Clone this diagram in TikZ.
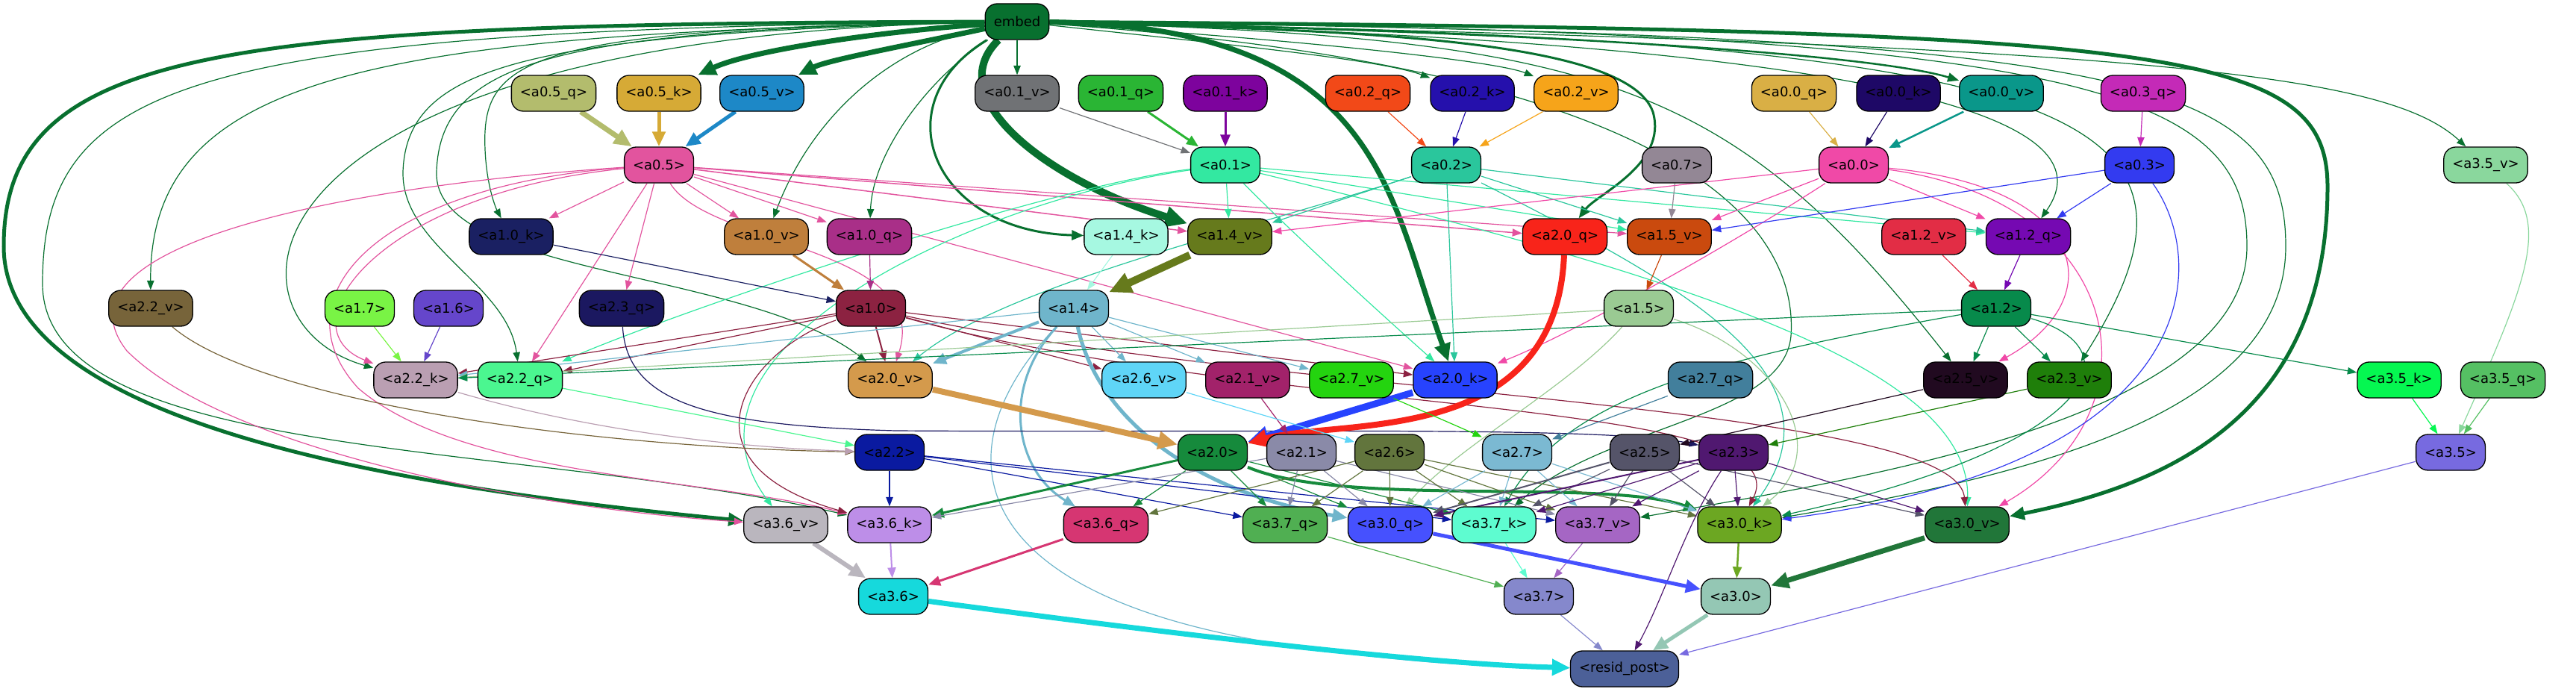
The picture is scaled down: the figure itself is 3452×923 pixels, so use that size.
\documentclass[tikz,border=0pt]{standalone}
\usepackage{fontspec}
\setmainfont{DejaVu Sans}
\usetikzlibrary{arrows.meta}
\pgfdeclarelayer{bg}\pgfsetlayers{bg,main}
\def\defc#1#2{\definecolor{c#1}{HTML}{#2}}
\defc{embed}{08702F}\defc{a05q}{B3BC6D}\defc{a05k}{D6AA36}\defc{a05v}{1D88C7}\defc{a05}{E2549E}
\defc{a01v}{707275}\defc{a01q}{2AB534}\defc{a01k}{7D039D}\defc{a01}{33E8A1}
\defc{a02q}{F24918}\defc{a02k}{2510AC}\defc{a02v}{F6A41A}\defc{a02}{2AC69C}\defc{a07}{938795}
\defc{a00q}{D9AF45}\defc{a00k}{1E0866}\defc{a00v}{0A978A}\defc{a00}{F049A7}
\defc{a03q}{C42AB7}\defc{a03}{333BF0}\defc{a35v}{8AD79D}
\defc{a10k}{1A2062}\defc{a10v}{BF7F3C}\defc{a10q}{A92F88}\defc{a14k}{A6F8E1}\defc{a14v}{667A1C}
\defc{a20q}{F8241A}\defc{a15v}{CA4A0E}\defc{a12v}{E22D45}\defc{a12q}{7509B2}
\defc{a22v}{77643A}\defc{a17}{79F445}\defc{a16}{6546CB}\defc{a23q}{1B1860}\defc{a10}{8C2241}
\defc{a14}{6FB5CB}\defc{a15}{9ACA93}\defc{a12}{078A4B}
\defc{a22k}{BA9FB2}\defc{a22q}{4BF690}\defc{a20v}{D49A4C}\defc{a26v}{5FD5F7}\defc{a21v}{A2226A}
\defc{a27v}{24D40F}\defc{a20k}{2743FE}\defc{a27q}{427F9C}\defc{a25v}{210A20}\defc{a23v}{1F7F0A}
\defc{a35k}{05F751}\defc{a35q}{55C063}
\defc{a22}{0A1AA0}\defc{a20}{168A3C}\defc{a21}{8A8AA8}\defc{a26}{62753D}\defc{a27}{7BB9D2}
\defc{a25}{555469}\defc{a23}{501870}\defc{a35}{776AE0}
\defc{a36v}{BAB6BE}\defc{a36k}{BD8EE8}\defc{a36q}{D63672}\defc{a37q}{50AF52}\defc{a30q}{4651FE}
\defc{a37k}{5EFCD0}\defc{a37v}{A566C4}\defc{a30k}{6CA722}\defc{a30v}{217639}
\defc{a36}{16D9DC}\defc{a37}{8588CC}\defc{a30}{94C7B4}\defc{resid}{4C6098}
\newcommand\N[4]{\node[nd,fill=c#1] (#1) at (#2,#3) {#4};}
\newcommand\E[3]{\draw[ed,line width=#3pt,color=c#1] (#1) -- (#2);}
\newcommand\C[4]{\draw[ed,line width=#3pt,color=c#1] (#1) #4 (#2);}
\begin{document}
\begin{tikzpicture}[x=1pt,y=-1pt,
  nd/.style={draw=black,line width=1.3pt,rounded corners=16pt,minimum height=48pt,
    inner xsep=11.5pt,inner ysep=0pt,text=black,font=\fontsize{18pt}{21pt}\selectfont},
  ed/.style={-{Triangle[length=10pt 2,width=7pt 2]}}]
\useasboundingbox (0,0) rectangle (3452,923);
% row 0
\N{embed}{1363}{29}{embed}
% row 1
\N{a05q}{742}{125}{<a0.5\_q>}\N{a05k}{883}{125}{<a0.5\_k>}\N{a05v}{1021}{125}{<a0.5\_v>}
\N{a01v}{1363}{125}{<a0.1\_v>}\N{a01q}{1502}{125}{<a0.1\_q>}\N{a01k}{1642}{125}{<a0.1\_k>}
\N{a02q}{1833}{125}{<a0.2\_q>}\N{a02k}{1973}{125}{<a0.2\_k>}\N{a02v}{2112}{125}{<a0.2\_v>}
\N{a00q}{2404}{125}{<a0.0\_q>}\N{a00k}{2544}{125}{<a0.0\_k>}\N{a00v}{2682}{125}{<a0.0\_v>}
\N{a03q}{2872}{125}{<a0.3\_q>}
% row 2
\N{a05}{883}{221}{<a0.5>}\N{a01}{1642}{221}{<a0.1>}\N{a02}{1938}{221}{<a0.2>}
\N{a07}{2247}{221}{<a0.7>}\N{a00}{2484}{221}{<a0.0>}\N{a03}{2867}{221}{<a0.3>}
\N{a35v}{3331}{221}{<a3.5\_v>}
% row 3
\N{a10k}{685}{317}{<a1.0\_k>}\N{a10v}{1027}{317}{<a1.0\_v>}\N{a10q}{1165}{317}{<a1.0\_q>}
\N{a14k}{1509}{317}{<a1.4\_k>}\N{a14v}{1648}{317}{<a1.4\_v>}\N{a20q}{2097}{317}{<a2.0\_q>}
\N{a15v}{2237}{317}{<a1.5\_v>}\N{a12v}{2578}{317}{<a1.2\_v>}\N{a12q}{2718}{317}{<a1.2\_q>}
% row 4
\N{a22v}{202}{413}{<a2.2\_v>}\N{a17}{482}{413}{<a1.7>}\N{a16}{601}{413}{<a1.6>}
\N{a23q}{833}{413}{<a2.3\_q>}\N{a10}{1167}{413}{<a1.0>}\N{a14}{1439}{413}{<a1.4>}
\N{a15}{2196}{413}{<a1.5>}\N{a12}{2675}{413}{<a1.2>}
% row 5
\N{a22k}{557}{509}{<a2.2\_k>}\N{a22q}{697}{509}{<a2.2\_q>}\N{a20v}{1193}{509}{<a2.0\_v>}
\N{a26v}{1533}{509}{<a2.6\_v>}\N{a21v}{1672}{509}{<a2.1\_v>}\N{a27v}{1811}{509}{<a2.7\_v>}
\N{a20k}{1950}{509}{<a2.0\_k>}\N{a27q}{2292}{509}{<a2.7\_q>}\N{a25v}{2634}{509}{<a2.5\_v>}
\N{a23v}{2773}{509}{<a2.3\_v>}\N{a35k}{3215}{509}{<a3.5\_k>}\N{a35q}{3354}{509}{<a3.5\_q>}
% row 6
\N{a22}{1192}{606}{<a2.2>}\N{a20}{1625}{606}{<a2.0>}\N{a21}{1744}{606}{<a2.1>}
\N{a26}{1862}{606}{<a2.6>}\N{a27}{2033}{606}{<a2.7>}\N{a25}{2204}{606}{<a2.5>}
\N{a23}{2323}{606}{<a2.3>}\N{a35}{3284}{606}{<a3.5>}
% row 7
\N{a36v}{1053}{703}{<a3.6\_v>}\N{a36k}{1192}{703}{<a3.6\_k>}\N{a36q}{1482}{703}{<a3.6\_q>}
\N{a37q}{1722}{703}{<a3.7\_q>}\N{a30q}{1863}{703}{<a3.0\_q>}\N{a37k}{2002}{703}{<a3.7\_k>}
\N{a37v}{2141}{703}{<a3.7\_v>}\N{a30k}{2331}{703}{<a3.0\_k>}\N{a30v}{2636}{703}{<a3.0\_v>}
% row 8
\N{a36}{1197}{799}{<a3.6>}\N{a37}{2062}{799}{<a3.7>}\N{a30}{2326}{799}{<a3.0>}
% row 9
\N{resid}{2177}{896}{<resid\_post>}
\begin{pgfonlayer}{bg}
% embed
\C{embed}{a05k}{7}{.. controls (1150,45) and (1000,70) ..}
\C{embed}{a05v}{7}{.. controls (1220,60) and (1110,80) ..}
\E{embed}{a01v}{1.2}
\C{embed}{a14v}{10}{.. controls (1260,130) and (1400,240) ..}
\C{embed}{a14k}{3}{.. controls (1180,140) and (1250,310) ..}
\C{embed}{a20k}{7}{.. controls (1850,35) and (1860,260) ..}
\C{embed}{a20q}{3}{.. controls (1800,40) and (2180,50) .. (2215,150) .. controls (2235,220) and (2140,260) ..}
\C{embed}{a02k}{1.2}{.. controls (1650,60) and (1850,80) ..}
\C{embed}{a02v}{1.2}{.. controls (1700,50) and (2000,80) ..}
\C{embed}{a00v}{2.5}{.. controls (2000,40) and (2500,70) ..}
\C{embed}{a12q}{1.2}{.. controls (2750,60) and (2800,200) ..}
\C{embed}{a35v}{1.2}{.. controls (2900,60) and (3200,100) ..}
\C{embed}{a30v}{5}{.. controls (2900,40) and (3119,60) .. (3119,250) .. controls (3119,560) and (2900,650) ..}
\C{embed}{a36v}{5}{.. controls (300,32) and (5,60) .. (5,330) .. controls (5,560) and (500,650) ..}
\C{embed}{a22v}{1.2}{.. controls (500,45) and (200,100) ..}
\C{embed}{a10k}{1.2}{.. controls (700,38) and (645,80) .. (650,200) .. controls (652,250) and (665,280) ..}
\C{embed}{a10v}{1.2}{.. controls (1200,60) and (1090,150) ..}
\C{embed}{a10q}{1.2}{.. controls (1250,100) and (1170,200) ..}
\C{embed}{a22k}{1.2}{.. controls (300,50) and (280,430) ..}
\C{embed}{a22q}{1.2}{.. controls (700,45) and (545,90) .. (540,230) .. controls (538,330) and (680,380) ..}
\C{embed}{a20v}{1.2}{.. controls (750,40) and (590,80) .. (585,230) .. controls (580,370) and (1000,360) ..}
\C{embed}{a36k}{1.2}{.. controls (250,40) and (57,110) .. (57,380) .. controls (57,620) and (700,590) ..}
\C{embed}{a25v}{1.2}{.. controls (2150,50) and (2320,110) ..}
\C{embed}{a23v}{1.2}{.. controls (2800,50) and (3000,150) ..}
\C{embed}{a30k}{1.2}{.. controls (2850,45) and (3063,100) .. (3063,330) .. controls (3063,560) and (2700,640) ..}
\C{embed}{a37v}{1.2}{.. controls (2800,40) and (3011,120) .. (3011,330) .. controls (3011,560) and (2500,640) ..}
\C{embed}{a37k}{1.2}{.. controls (2250,90) and (2410,300) .. (2400,450) .. controls (2390,560) and (2150,570) ..}
% layer 0 to a0.x
\E{a05q}{a05}{7}\E{a05k}{a05}{5}\E{a05v}{a05}{5}
\E{a01v}{a01}{1.2}\E{a01q}{a01}{3}\E{a01k}{a01}{3}
\E{a02q}{a02}{1.2}\E{a02k}{a02}{1.2}\E{a02v}{a02}{1.2}
\E{a00q}{a00}{1.2}\E{a00k}{a00}{1.2}\E{a00v}{a00}{2.5}
\E{a03q}{a03}{1.2}
% a0.5
\E{a05}{a10k}{1.2}\E{a05}{a10v}{1.2}\E{a05}{a10q}{1.2}\E{a05}{a23q}{1.2}\E{a05}{a22q}{1.2}
\C{a05}{a22k}{1.2}{.. controls (500,260) and (380,440) ..}
\C{a05}{a36v}{1.2}{.. controls (450,250) and (60,330) .. (170,470) .. controls (300,600) and (700,680) ..}
\C{a05}{a36k}{1.2}{.. controls (500,250) and (370,400) .. (480,520) .. controls (620,640) and (950,640) ..}
\E{a05}{a14v}{1.5}\E{a05}{a20q}{1.5}\E{a05}{a15v}{1.2}\E{a05}{a20k}{1.2}
\C{a05}{a20v}{1.2}{.. controls (950,330) and (1250,330) ..}
% a0.1
\E{a01}{a14v}{1.2}\E{a01}{a15v}{1.2}\E{a01}{a12q}{1.2}
\C{a01}{a20k}{1.2}{.. controls (1740,320) and (1850,420) ..}
\C{a01}{a22q}{1.2}{.. controls (1400,250) and (900,420) ..}
\C{a01}{a36v}{1.2}{.. controls (1300,270) and (880,470) ..}
\C{a01}{a30v}{1.2}{.. controls (2300,380) and (2640,500) ..}
% a0.2
\E{a02}{a14v}{1.2}\E{a02}{a15v}{1.2}\E{a02}{a12q}{1.2}\E{a02}{a20k}{1.2}
\C{a02}{a20v}{1.2}{.. controls (1700,300) and (1350,380) ..}
\C{a02}{a30k}{1.2}{.. controls (2250,380) and (2480,500) ..}
% a0.0
\E{a00}{a14v}{1.2}\E{a00}{a15v}{1.2}\E{a00}{a12q}{1.2}
\C{a00}{a20k}{1.2}{.. controls (2300,340) and (2100,450) ..}
\C{a00}{a25v}{1.2}{.. controls (2800,250) and (2830,400) ..}
\C{a00}{a30v}{1.2}{.. controls (2850,270) and (2900,550) ..}
% a0.3, a0.7
\E{a03}{a15v}{1.2}\E{a03}{a12q}{1.2}
\C{a03}{a30k}{1.2}{.. controls (2960,350) and (2960,620) ..}
\E{a07}{a15v}{1.2}
% layer 1
\E{a10k}{a10}{1.2}\E{a10v}{a10}{3}\E{a10q}{a10}{1.2}
\E{a14k}{a14}{1.2}\E{a14v}{a14}{10}
\E{a15v}{a15}{1.2}\E{a12v}{a12}{1.2}\E{a12q}{a12}{1.2}
\E{a10}{a20v}{2}\E{a10}{a26v}{1.2}\E{a10}{a22k}{1.2}\E{a10}{a22q}{1.2}\E{a10}{a20k}{1.2}
\C{a10}{a36k}{1.2}{.. controls (1000,470) and (900,620) ..}
\C{a10}{a30k}{1.2}{.. controls (1700,560) and (2420,530) ..}
\C{a10}{a30v}{1.2}{.. controls (1700,530) and (2620,540) ..}
\E{a14}{a20v}{4}\E{a14}{a26v}{1.2}\E{a14}{a21v}{1.2}\E{a14}{a27v}{1.2}\E{a14}{a22k}{1.2}
\C{a14}{a36q}{3}{.. controls (1340,520) and (1360,630) ..}
\C{a14}{a30q}{5}{.. controls (1470,560) and (1600,660) ..}
\C{a14}{resid}{1.2}{.. controls (1260,600) and (1280,800) .. (1737,866) .. controls (1900,890) and (2000,893) ..}
\E{a15}{a22k}{1.2}
\C{a15}{a30q}{1.2}{.. controls (2100,520) and (1950,600) ..}
\C{a15}{a30k}{1.2}{.. controls (2380,470) and (2460,600) ..}
\E{a12}{a25v}{1.2}\E{a12}{a23v}{1.2}\E{a12}{a35k}{1.2}\E{a12}{a22k}{1.2}
\C{a12}{a37k}{1.2}{.. controls (2300,480) and (2100,530) ..}
\C{a12}{a30k}{1.2}{.. controls (2870,470) and (2800,600) ..}
% layer 2 inputs
\C{a22v}{a22}{1.2}{.. controls (350,540) and (800,600) ..}
\E{a17}{a22k}{1.2}\E{a16}{a22k}{1.2}
\C{a23q}{a23}{1.2}{.. controls (840,540) and (950,570) .. (1200,577) .. controls (1700,580) and (2150,570) ..}
\C{a22k}{a22}{1.2}{.. controls (800,580) and (1000,600) ..}
\E{a22q}{a22}{1.2}
\E{a20v}{a20}{8}\E{a20k}{a20}{9}
\C{a20q}{a20}{8}{.. controls (2085,600) and (1800,560) ..}
\E{a21v}{a21}{1.2}\E{a26v}{a26}{1.2}\E{a27v}{a27}{1.2}\E{a27q}{a27}{1.2}
\E{a25v}{a25}{1.2}\E{a23v}{a23}{1.2}
% layer 2 outputs
\E{a22}{a36k}{1.2}\E{a22}{a37q}{1.2}\E{a22}{a37k}{1.2}\E{a22}{a37v}{1.2}
\E{a20}{a36k}{3}\E{a20}{a36q}{1.2}\E{a20}{a37q}{1.2}\E{a20}{a30q}{1.2}\E{a20}{a37k}{1.2}
\C{a20}{a30k}{4}{.. controls (1800,680) and (2150,640) ..}
\E{a21}{a36k}{1.2}\E{a21}{a37q}{1.2}\E{a21}{a30q}{1.2}\E{a21}{a37v}{1.2}
\E{a26}{a36q}{1.2}\E{a26}{a37q}{1.2}\E{a26}{a30q}{1.2}\E{a26}{a37k}{1.2}\E{a26}{a37v}{1.2}\E{a26}{a30k}{1.2}
\E{a27}{a30q}{1.2}\E{a27}{a37k}{1.2}\E{a27}{a37v}{1.2}\E{a27}{a30k}{1.2}
\E{a25}{a30q}{2}\E{a25}{a37k}{1.2}\E{a25}{a37v}{1.2}\E{a25}{a30k}{1.2}\E{a25}{a30v}{1.2}
\E{a23}{a30q}{2}\E{a23}{a37k}{1.2}\E{a23}{a37v}{1.2}\E{a23}{a30k}{1.2}\E{a23}{a30v}{1.2}
\C{a23}{resid}{1.2}{.. controls (2260,700) and (2230,800) ..}
% layer 3
\E{a36v}{a36}{6}\E{a36k}{a36}{2}\E{a36q}{a36}{3}
\E{a37q}{a37}{1.2}\E{a37k}{a37}{1.2}\E{a37v}{a37}{1.2}
\E{a30k}{a30}{2.5}\E{a30v}{a30}{7}\E{a30q}{a30}{5}
\E{a35k}{a35}{1.2}\E{a35q}{a35}{1.2}
\C{a35v}{a35}{1.2}{.. controls (3420,300) and (3380,390) ..}
\C{a36}{resid}{7}{.. controls (1500,840) and (1900,890) ..}
\E{a37}{resid}{1.2}\E{a30}{resid}{5}\E{a35}{resid}{1.2}
\end{pgfonlayer}
\end{tikzpicture}
\end{document}
